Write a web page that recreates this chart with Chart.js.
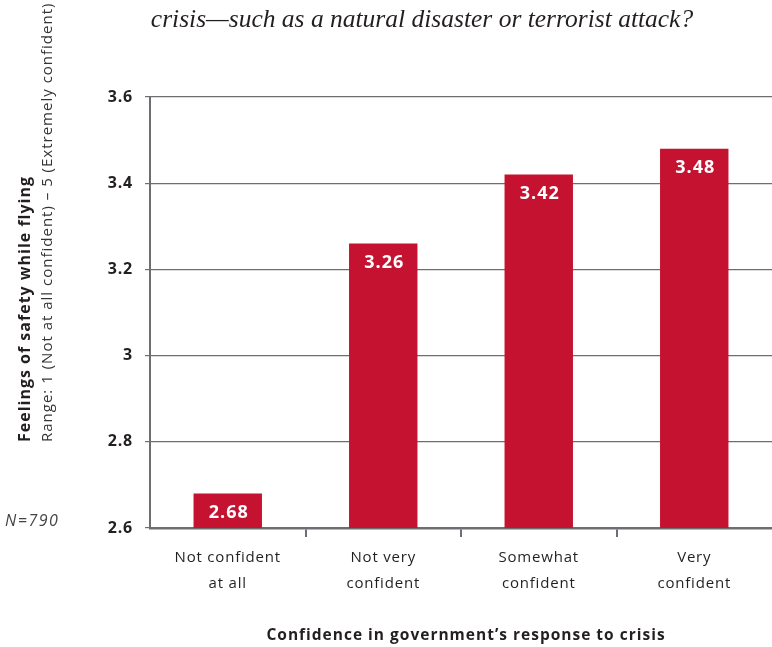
<!DOCTYPE html>
<html>
<head>
<meta charset="utf-8">
<script src="https://cdn.jsdelivr.net/npm/chart.js@4"></script>
<style>
  body { margin: 0; background: #fff; }
  canvas { display: block; }
</style>
</head>
<body>
<canvas id="chart" width="772" height="647"></canvas>
<script>
// data
const categories = [["Not confident", "at all"], ["Not very", "confident"], ["Somewhat", "confident"], ["Very", "confident"]];
const values = [2.68, 3.26, 3.42, 3.48];
const yTicks = [2.6, 2.8, 3, 3.2, 3.4, 3.6];

const titleText = "crisis\u2014such as a natural disaster or terrorist attack?";
const yTitleBold = "Feelings of safety while flying";
const yTitleSub = "Range: 1 (Not at all confident) \u2013 5 (Extremely confident)";
const xTitle = "Confidence in government\u2019s response to crisis";
const sampleNote = "N=790";

const RED = "#c41230";
const GRAY = "#6d6e71";
const INK = "#231f20";
const SANS = "'Open Sans', 'Noto Sans', sans-serif";

// white value labels inside the bars + loose text around the chart
const extraText = {
    id: "extraText",
    beforeDraw(chart) {
        // the original uses a loosely spaced sans
        chart.ctx.letterSpacing = "0.8px";
    },
    afterDatasetsDraw(chart) {
        const ctx = chart.ctx;
        const meta = chart.getDatasetMeta(0);
        ctx.save();
        ctx.letterSpacing = "1px";
        ctx.fillStyle = "#fff";
        ctx.font = "bold 18px " + SANS;
        ctx.textAlign = "center";
        ctx.textBaseline = "middle";
        meta.data.forEach((bar, i) => {
            ctx.fillText(values[i].toFixed(2), bar.x + 1, bar.y + 19);
        });
        ctx.restore();
    },
    afterDraw(chart) {
        const ctx = chart.ctx;
        ctx.save();

        // title (second line of the question)
        ctx.letterSpacing = "0px";
        ctx.fillStyle = INK;
        ctx.font = "italic 25.5px 'Liberation Serif', serif";
        ctx.textAlign = "center";
        ctx.textBaseline = "middle";
        ctx.fillText(titleText, 422, 20);

        // x axis title
        ctx.letterSpacing = "1px";
        ctx.font = "bold 15.5px " + SANS;
        ctx.fillText(xTitle, 466, 636);

        // N note
        ctx.letterSpacing = "1.5px";
        ctx.font = "italic 16px " + SANS;
        ctx.fillStyle = "#444";
        ctx.textAlign = "left";
        ctx.fillText(sampleNote, 5, 521);

        // rotated y titles
        ctx.translate(0, 442);
        ctx.rotate(-Math.PI / 2);
        ctx.letterSpacing = "1px";
        ctx.fillStyle = INK;
        ctx.font = "bold 16px " + SANS;
        ctx.fillText(yTitleBold, 0, 25);
        ctx.fillStyle = "#333";
        ctx.font = "15px " + SANS;
        ctx.fillText(yTitleSub, 0, 48);
        ctx.restore();
    }
};

new Chart(document.getElementById("chart").getContext("2d"), {
    type: "bar",
    data: {
        labels: categories,
        datasets: [{
            data: values,
            backgroundColor: RED,
            barPercentage: 0.44,
            categoryPercentage: 1
        }]
    },
    options: {
        responsive: false,
        animation: false,
        layout: { padding: { top: 97, right: 0, bottom: 0, left: 0 } },
        plugins: {
            legend: { display: false },
            tooltip: { enabled: false }
        },
        scales: {
            x: {
                afterFit(scale) { scale.height = 119; },
                border: { color: GRAY, width: 2.5 },
                grid: {
                    drawOnChartArea: false,
                    drawTicks: true,
                    tickLength: 9,
                    lineWidth: 2,
                    tickColor: c => (c.type !== "tick" || c.index === 0) ? "rgba(0,0,0,0)" : GRAY
                },
                ticks: {
                    color: INK,
                    font: { family: SANS, size: 15, lineHeight: 1.7 },
                    padding: 8,
                    maxRotation: 0
                }
            },
            y: {
                min: 2.6,
                max: 3.6,
                afterFit(scale) { scale.width = 150; },
                afterBuildTicks(scale) { scale.ticks = yTicks.map(v => ({ value: v })); },
                border: { color: GRAY, width: 2 },
                grid: {
                    color: GRAY,
                    lineWidth: 1.2,
                    tickLength: 5,
                    tickColor: GRAY
                },
                ticks: {
                    color: INK,
                    font: { family: SANS, size: 16, weight: "bold" },
                    padding: 12,
                    callback: v => String(v)
                }
            }
        }
    },
    plugins: [extraText]
});
</script>
</body>
</html>
